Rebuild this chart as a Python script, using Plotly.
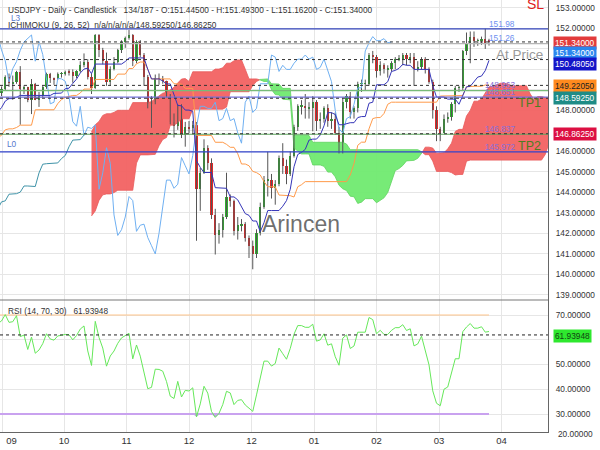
import numpy as np
import pandas as pd
import plotly.graph_objects as go

# ---------------- data (bar index 0 = 2023-09-20; first bar = 2023-07-13) ----------------
first_index = -49
opens = [138.45, 138.10, 138.80, 138.70, 139.10, 139.70, 140.05, 141.80, 141.45, 140.90, 140.20, 139.45, 141.15,
         142.30, 143.30, 143.30, 142.60, 141.80, 142.50, 143.40, 143.70, 144.70, 144.95, 145.55, 145.60, 146.35, 146.10,
         145.40, 146.20, 145.90, 144.85, 146.00, 146.40, 146.50, 145.90, 146.20,
         145.50, 146.20, 146.50, 147.70, 147.70, 147.30, 147.80, 146.60, 147.10, 147.40, 147.50, 147.85, 147.60, 147.85,
         148.35, 147.60, 148.35, 148.85, 149.06, 149.63, 149.32,
         149.37, 149.86, 149.02, 149.13, 148.50, 149.30, 148.52, 148.72, 149.12, 149.80, 149.57, 149.52, 149.78, 149.82,
         149.87, 149.86, 149.70, 149.90, 150.22, 150.38, 149.62, 149.08,
         151.68, 150.95, 150.42, 149.38, 150.04, 150.38, 150.93, 151.34, 151.52, 151.68, 150.40, 151.36, 150.72, 149.62,
         148.32, 148.40, 149.56, 149.54, 149.42, 148.68, 147.45, 147.23,
         148.20, 146.78, 147.18, 147.12, 147.30, 144.15, 144.95, 146.18, 145.42, 142.90, 141.90, 142.18, 142.80, 143.80,
         143.60, 142.10, 142.40, 142.45, 141.80, 141.40,
         141.00, 142.00, 143.30, 144.60, 144.60, 144.20, 144.40, 145.70, 145.30, 144.90, 145.80, 147.20, 148.20, 148.20,
         148.10, 148.10, 148.40, 147.50, 147.60, 148.10, 147.50, 147.60,
         146.90, 146.40, 148.40, 148.70, 147.90, 148.10, 149.30, 149.30, 149.30, 150.70, 150.60, 149.90, 150.20, 150.00,
         150.00, 150.30, 150.50, 150.50, 150.70, 150.50, 150.60,
         150.00, 150.10, 150.50, 150.00, 149.40, 148.00, 147.10, 146.90, 147.60, 147.70, 148.30, 149.10, 149.10, 150.90,
         151.30, 151.60, 151.40, 151.40, 151.50, 151.445]
highs = [138.95, 139.00, 139.40, 139.40, 139.90, 140.50, 141.95, 141.95, 141.70, 141.20, 141.20, 141.20, 142.70,
         143.55, 143.90, 143.90, 142.90, 142.60, 143.50, 143.80, 144.75, 145.00, 145.60, 145.85, 146.40, 146.55, 146.20,
         146.40, 146.40, 146.05, 146.10, 146.60, 146.75, 147.35, 146.35, 146.30,
         146.30, 146.65, 147.80, 147.85, 147.80, 147.90, 147.90, 147.20, 147.50, 147.70, 147.95, 147.95, 148.00, 148.45,
         148.45, 148.46, 148.95, 149.17, 149.71, 149.80, 149.70,
         149.93, 150.16, 149.22, 149.15, 149.53, 149.34, 148.90, 149.20, 149.84, 149.83, 149.60, 149.85, 149.87, 149.94,
         150.00, 150.00, 149.96, 150.40, 150.78, 150.50, 149.80, 151.72,
         151.72, 151.05, 150.82, 150.15, 150.60, 151.00, 151.42, 151.60, 151.92, 151.72, 151.42, 151.43, 150.80, 149.73,
         148.70, 149.75, 149.80, 149.68, 149.45, 148.80, 147.85, 148.30,
         148.30, 147.44, 147.48, 147.49, 147.43, 145.20, 146.59, 146.30, 145.66, 143.20, 142.50, 142.95, 144.96, 143.90,
         143.65, 142.80, 142.70, 142.55, 141.90, 141.65,
         142.20, 143.50, 144.80, 145.98, 144.90, 144.60, 145.80, 146.40, 145.60, 146.00, 147.30, 148.30, 148.50, 148.80,
         148.40, 148.70, 148.50, 147.90, 148.20, 148.30, 147.90, 147.90,
         147.20, 148.60, 148.80, 148.90, 148.20, 149.40, 149.50, 149.50, 150.80, 150.90, 150.70, 150.40, 150.30, 150.20,
         150.40, 150.60, 150.70, 150.80, 150.80, 150.80, 150.80,
         150.40, 150.60, 150.60, 150.10, 149.50, 148.20, 147.20, 147.80, 147.90, 148.40, 149.20, 149.20, 150.95, 151.80,
         151.85, 151.85, 151.50, 151.60, 151.98, 151.493]
lows = [137.90, 137.24, 138.10, 138.20, 138.75, 139.10, 139.80, 141.20, 140.70, 139.90, 139.80, 138.05, 140.70,
        142.10, 142.60, 142.40, 141.50, 141.55, 142.40, 143.00, 143.20, 144.50, 144.60, 145.10, 145.50, 145.70, 144.90,
        145.20, 145.50, 144.50, 144.60, 145.70, 146.20, 145.80, 145.60, 145.35,
        144.40, 146.00, 146.40, 147.20, 146.60, 147.10, 145.90, 146.50, 146.90, 147.10, 147.20, 147.60, 147.50, 147.60,
        147.35, 147.50, 148.30, 148.70, 148.95, 149.15, 148.52,
        149.30, 147.30, 148.80, 148.40, 147.82, 148.50, 148.17, 148.63, 149.05, 149.34, 149.25, 149.48, 149.60, 149.70,
        149.70, 149.35, 149.58, 149.85, 150.10, 149.51, 148.80, 149.05,
        150.60, 150.25, 149.20, 149.20, 149.95, 150.30, 150.80, 151.05, 151.45, 150.16, 150.30, 150.60, 149.20, 148.10,
        147.15, 148.30, 149.25, 149.30, 148.63, 147.32, 146.68, 147.05,
        146.65, 146.23, 146.90, 146.90, 141.64, 143.10, 144.90, 145.10, 142.70, 140.97, 141.50, 141.80, 142.70, 143.30,
        141.90, 141.70, 142.10, 141.60, 140.80, 140.25,
        140.80, 141.90, 143.20, 143.80, 143.70, 143.40, 144.30, 144.90, 144.40, 144.80, 145.70, 147.00, 147.80, 147.60,
        147.60, 146.98, 147.00, 147.10, 147.40, 147.20, 147.10, 146.80,
        145.90, 145.90, 148.10, 147.60, 147.60, 147.90, 148.90, 149.00, 149.20, 150.30, 149.60, 149.70, 149.80, 149.60,
        149.90, 150.00, 150.40, 150.20, 150.20, 150.30, 149.20,
        149.90, 150.00, 149.80, 149.30, 147.60, 146.50, 146.50, 146.90, 147.40, 147.50, 147.90, 148.90, 149.00, 150.70,
        150.30, 151.10, 151.15, 151.20, 151.00, 151.162]
closes = [138.10, 138.80, 138.70, 139.10, 139.70, 140.05, 141.80, 141.45, 140.90, 140.20, 139.45, 141.15, 142.30,
          143.30, 143.30, 142.60, 141.80, 142.50, 143.40, 143.70, 144.70, 144.95, 145.55, 145.60, 146.35, 146.10, 145.40,
          146.20, 145.90, 144.85, 146.00, 146.40, 146.50, 145.90, 146.20, 145.50,
          146.20, 146.50, 147.70, 147.70, 147.30, 147.80, 146.60, 147.10, 147.40, 147.50, 147.85, 147.60, 147.85, 148.35,
          147.60, 148.35, 148.85, 149.06, 149.63, 149.32, 149.37,
          149.86, 149.02, 149.13, 148.50, 149.30, 148.52, 148.72, 149.12, 149.80, 149.57, 149.52, 149.78, 149.82, 149.87,
          149.86, 149.70, 149.90, 150.22, 150.38, 149.62, 149.08, 151.68,
          150.95, 150.42, 149.38, 150.04, 150.38, 150.93, 151.34, 151.52, 151.68, 150.40, 151.36, 150.72, 149.62, 148.32,
          148.40, 149.56, 149.54, 149.42, 148.68, 147.45, 147.23, 148.20,
          146.78, 147.18, 147.12, 147.30, 144.15, 144.95, 146.18, 145.42, 142.90, 141.90, 142.18, 142.80, 143.80, 143.60,
          142.10, 142.40, 142.45, 141.80, 141.40, 141.00,
          142.00, 143.30, 144.60, 144.60, 144.20, 144.40, 145.70, 145.30, 144.90, 145.80, 147.20, 148.20, 148.20, 148.10,
          148.10, 148.40, 147.50, 147.60, 148.10, 147.50, 147.60, 146.90,
          146.40, 148.40, 148.70, 147.90, 148.10, 149.30, 149.30, 149.30, 150.70, 150.60, 149.90, 150.20, 150.00, 150.00,
          150.30, 150.50, 150.50, 150.70, 150.50, 150.60, 150.00,
          150.10, 150.50, 150.00, 149.40, 148.00, 147.10, 146.90, 147.60, 147.70, 148.30, 149.10, 149.10, 150.90, 151.30,
          151.60, 151.40, 151.40, 151.50, 151.30, 151.34]
for arr in (opens, highs, lows):
    assert len(arr) == len(closes), (len(arr), len(closes))

x_tick_labels = ["", "10", "11", "12", "12", "01<br>2024", "02", "03", "04"]
price_ticks = [139, 140, 141, 142, 143, 144, 145, 146, 147, 148, 149, 150, 151, 152, 153]
price_tick_labels = ["139.00000", "140.00000", "141.00000", "142.00000", "143.00000", "144.00000", "145.00000",
                     "146.00000", "147.00000", "148.00000", "", "", "", "152.00000", "153.00000"]
rsi_ticks = [30, 40, 50, 60, 70]
rsi_tick_labels = ["30.00000", "40.00000", "50.00000", "", "70.00000"]

level_prices = [151.98, 151.26, 148.963, 148.651, 146.837, 145.972]
level_texts = ["151.98", "151.26", "148.963", "148.651", "146.837", "145.972"]
marker_prices = [151.34, 150.4805, 149.2205, 148.5925, 146.8625]
box_texts = ["151.34000", "151.34000", "150.48050", "149.22050", "148.59250", "146.86250"]
rsi_last_text = "61.93948"
rsi_last = 61.93948

# ---------------- geometry ----------------
W, H = 600, 450
ML, MR, MT, MB = 0, 52, 0, 18
PW, PH = W - ML - MR, H - MT - MB


def X(px):
    return (px - ML) / PW


def Y(py):
    return (PH - (py - MT)) / PH


PX_PER_BAR = 3.75
X0 = 134 - 489 / PX_PER_BAR
X1 = X0 + PW / PX_PER_BAR
tickvals = [X0 + p / PX_PER_BAR for p in [2, 64, 126.5, 189, 251.5, 314, 376.5, 439, 501.5]]

FONT = "Arial, Liberation Sans, sans-serif"

# ---------------- indicators ----------------
idx = np.arange(first_index, first_index + len(closes))
o = pd.Series(opens, index=idx)
h = pd.Series(highs, index=idx)
l = pd.Series(lows, index=idx)
c = pd.Series(closes, index=idx)

tenkan = (h.rolling(9).max() + l.rolling(9).min()) / 2
kijun = (h.rolling(26).max() + l.rolling(26).min()) / 2
ext = np.arange(first_index, idx[-1] + 27)
spanA = pd.Series(((tenkan + kijun) / 2).values, index=idx + 26).reindex(ext)
spanB = pd.Series(((h.rolling(52).max() + l.rolling(52).min()) / 2).values, index=idx + 26).reindex(ext)

delta = c.diff()
gain = delta.clip(lower=0)
loss = (-delta).clip(lower=0)
ag = gain.ewm(alpha=1 / 14, adjust=False, min_periods=14).mean()
al = loss.ewm(alpha=1 / 14, adjust=False, min_periods=14).mean()
rsi = 100 - 100 / (1 + ag / al)

fig = go.Figure()

# ---------------- cloud ----------------
a = spanA.values
b = spanB.values
polys = []
cur = None
for k in range(len(ext)):
    if np.isnan(a[k]) or np.isnan(b[k]):
        if cur:
            polys.append(cur)
        cur = None
        continue
    d = a[k] - b[k]
    s = d > 0
    if cur is None:
        cur = {"s": s, "x": [], "a": [], "b": []}
    elif s != cur["s"]:
        d0 = a[k - 1] - b[k - 1]
        t = d0 / (d0 - d)
        xc = ext[k - 1] + t
        yc = a[k - 1] + t * (a[k] - a[k - 1])
        cur["x"].append(xc); cur["a"].append(yc); cur["b"].append(yc)
        polys.append(cur)
        cur = {"s": s, "x": [xc], "a": [yc], "b": [yc]}
    cur["x"].append(ext[k]); cur["a"].append(a[k]); cur["b"].append(b[k])
if cur:
    polys.append(cur)

for p in polys:
    red = p["s"]
    fig.add_trace(go.Scatter(
        x=p["x"] + p["x"][::-1], y=p["a"] + p["b"][::-1], fill="toself", mode="lines",
        fillcolor="rgba(242,98,98,0.95)" if red else "rgba(112,234,112,0.95)",
        line=dict(color="#e85a5a" if red else "#5fd35f", width=0.8),
        hoverinfo="skip", showlegend=False, xaxis="x", yaxis="y"))

# span A before span B exists
fig.add_trace(go.Scatter(x=ext, y=spanA.where(spanB.shift(-1).isna()).values, mode="lines",
                         line=dict(color="#3f93a8", width=1), hoverinfo="skip", showlegend=False))

# ---------------- candles ----------------
vis = idx >= 3
wx, wy = [], []
for i, hi, lo in zip(idx[vis], h[vis], l[vis]):
    wx += [i, i, None]
    wy += [lo, hi, None]
fig.add_trace(go.Scatter(x=wx, y=wy, mode="lines", line=dict(color="#555555", width=1),
                         hoverinfo="skip", showlegend=False))
ov, cv = o[vis].values, c[vis].values
base = np.minimum(ov, cv)
height = np.maximum(np.abs(cv - ov), 0.02)
up = cv >= ov
fig.add_trace(go.Bar(x=idx[vis][up], y=height[up], base=base[up], width=0.62,
                     marker=dict(color="#2eae2e", line=dict(width=0)), showlegend=False, hoverinfo="skip"))
fig.add_trace(go.Bar(x=idx[vis][~up], y=height[~up], base=base[~up], width=0.62,
                     marker=dict(color="#e12828", line=dict(width=0)), showlegend=False, hoverinfo="skip"))

# ---------------- ichimoku lines ----------------
fig.add_trace(go.Scatter(x=idx - 26, y=c.values, mode="lines", line=dict(color="#6fb0f2", width=1),
                         hoverinfo="skip", showlegend=False))
fig.add_trace(go.Scatter(x=idx, y=kijun.values, mode="lines", line=dict(color="#ff9a4a", width=1),
                         hoverinfo="skip", showlegend=False))
fig.add_trace(go.Scatter(x=idx, y=tenkan.values, mode="lines", line=dict(color="#3535b8", width=1),
                         hoverinfo="skip", showlegend=False))

# ---------------- RSI ----------------
rv = idx >= 0
fig.add_trace(go.Scatter(x=[idx[rv][0], idx[-1]], y=[70, 70], mode="lines", line=dict(color="#ffc68c", width=1.2),
                         xaxis="x2", yaxis="y2", hoverinfo="skip", showlegend=False))
fig.add_trace(go.Scatter(x=idx[rv], y=np.full(rv.sum(), 30.0), mode="lines", line=dict(color="#c9a2ef", width=2),
                         xaxis="x2", yaxis="y2", hoverinfo="skip", showlegend=False))
fig.add_trace(go.Scatter(x=idx[rv], y=np.minimum(rsi[rv].values, 30), mode="lines", fill="tonexty",
                         fillcolor="rgba(180,140,230,0.8)", line=dict(color="rgba(0,0,0,0)", width=0),
                         xaxis="x2", yaxis="y2", hoverinfo="skip", showlegend=False))
fig.add_trace(go.Scatter(x=idx[rv], y=rsi[rv].values, mode="lines", line=dict(color="#66e85a", width=1),
                         xaxis="x2", yaxis="y2", hoverinfo="skip", showlegend=False))

# ---------------- level lines ----------------
shapes = []
level_styles = [("#3344bb", "solid"), ("#b5b5b5", "solid"), ("#78bb78", "solid"), ("#7272dd", "solid"),
                ("#5fa75f", "solid"), ("#3344cc", "solid")]
for pr, (col, dash) in zip(level_prices, level_styles):
    shapes.append(dict(type="line", xref="paper", yref="y", x0=0, x1=1, y0=pr, y1=pr,
                       line=dict(color=col, width=1.2, dash=dash), layer="above"))
for pr in marker_prices:
    shapes.append(dict(type="line", xref="paper", yref="y", x0=0, x1=1, y0=pr, y1=pr,
                       line=dict(color="#333333", width=1, dash="3px,3px"), layer="above"))
shapes.append(dict(type="line", xref="paper", yref="y2", x0=0, x1=1, y0=rsi_last, y1=rsi_last,
                   line=dict(color="#222222", width=1, dash="3px,3px"), layer="above"))
shapes.append(dict(type="line", xref="paper", yref="paper", x0=0, x1=1, y0=Y(300), y1=Y(300),
                   line=dict(color="#777777", width=1), layer="above"))

# ---------------- annotations ----------------
ann = []


def txt(text, px, py, size=8.3, color="#333333", xanchor="left", yanchor="middle", **kw):
    ann.append(dict(text=text, x=X(px), y=Y(py), xref="paper", yref="paper", showarrow=False,
                    xanchor=xanchor, yanchor=yanchor, font=dict(size=size, color=color, family=FONT), **kw))


txt("L3", 9, 18, color="#5577cc")
txt("USDJPY - Daily - Candlestick   134/187 - O:151.44500 - H:151.49300 - L:151.16200 - C:151.34000", 6, 10)
txt("ICHIMOKU (9, 26, 52)  n/a/n/a/n/a/148.59250/146.86250", 6, 25)
txt("RSI (14, 70, 30)   " + rsi_last_text, 6, 311)
txt("L0", 5, 144, color="#5577cc")

label_y = [24, 38, 85, 92, 129, 147]
label_col = ["#6d8ff0", "#6d8ff0", "#8a6fd8", "#8a6fd8", "#8a6fd8", "#8a6fd8"]
for t, py, col in zip(level_texts, label_y, label_col):
    txt(t, 517, py, color=col, xanchor="right")

txt("At Price", 519, 54, size=13.5, color="#9a9a9a", xanchor="center")
txt("TP1", 529, 103, size=12.5, color="#4f7d22", xanchor="center")
txt("TP2", 529, 146, size=12.5, color="#4f7d22", xanchor="center")
txt("SL", 535, 4, size=14, color="#e02020", xanchor="center")
txt("Arincen", 301, 224, size=23, color="rgba(85,85,85,0.85)", xanchor="center")

box_y = [43, 53, 64, 86, 98, 134]
box_bg = ["#e23b3b", "#2a86ee", "#1414c8", "#ff8a1e", "#1f8c86", "#dc0f42"]
box_fg = ["#ffffff", "#ffffff", "#ffffff", "#222222", "#ffffff", "#ffffff"]
for t, py, bg, fg in zip(box_texts, box_y, box_bg, box_fg):
    txt(t, 553, py, color=fg, bgcolor=bg, borderpad=1)
txt(rsi_last_text, 553, 336, color="#114411", bgcolor="#2ee82e", borderpad=1)
txt("20.00000", 556, 434, color="#333333")
txt("09<br>2023", 11, 433, size=9.5, xanchor="center", yanchor="top")

axis_common = dict(showgrid=True, gridcolor="#e6e6e6", zeroline=False, automargin=False)
fig.update_layout(
    width=W, height=H, margin=dict(l=ML, r=MR, t=MT, b=MB, autoexpand=False),
    paper_bgcolor="white", plot_bgcolor="white", barmode="overlay", bargap=0,
    font=dict(family=FONT, size=8.3, color="#333333"),
    showlegend=False, shapes=shapes, annotations=ann,
    xaxis=dict(domain=[0, 1], range=[X0, X1], anchor="y", tickvals=tickvals, showticklabels=False,
               ticks="", **axis_common),
    xaxis2=dict(domain=[0, 1], range=[X0, X1], anchor="y2", matches="x", tickvals=tickvals,
                ticktext=x_tick_labels, tickfont=dict(size=9.5, color="#333333"), ticks="",
                showline=True, linecolor="#666666", linewidth=1, **axis_common),
    yaxis=dict(domain=[Y(300), 1], range=[152 - (300 - 28.4) / 20.5, 152 + 28.4 / 20.5], side="right",
               tickvals=price_ticks, ticktext=price_tick_labels, ticks="outside", ticklen=5,
               tickcolor="rgba(0,0,0,0)", showline=True, linecolor="#666666", linewidth=1, anchor="x",
               **axis_common),
    yaxis2=dict(domain=[0, Y(300)], range=[70 - (432 - 315) / 2.475, 70 + 15 / 2.475], side="right",
                tickvals=rsi_ticks, ticktext=rsi_tick_labels, ticks="outside", ticklen=5,
                tickcolor="rgba(0,0,0,0)", showline=True, linecolor="#666666", linewidth=1, anchor="x2",
                **axis_common),
)

fig.write_html("out.html")
